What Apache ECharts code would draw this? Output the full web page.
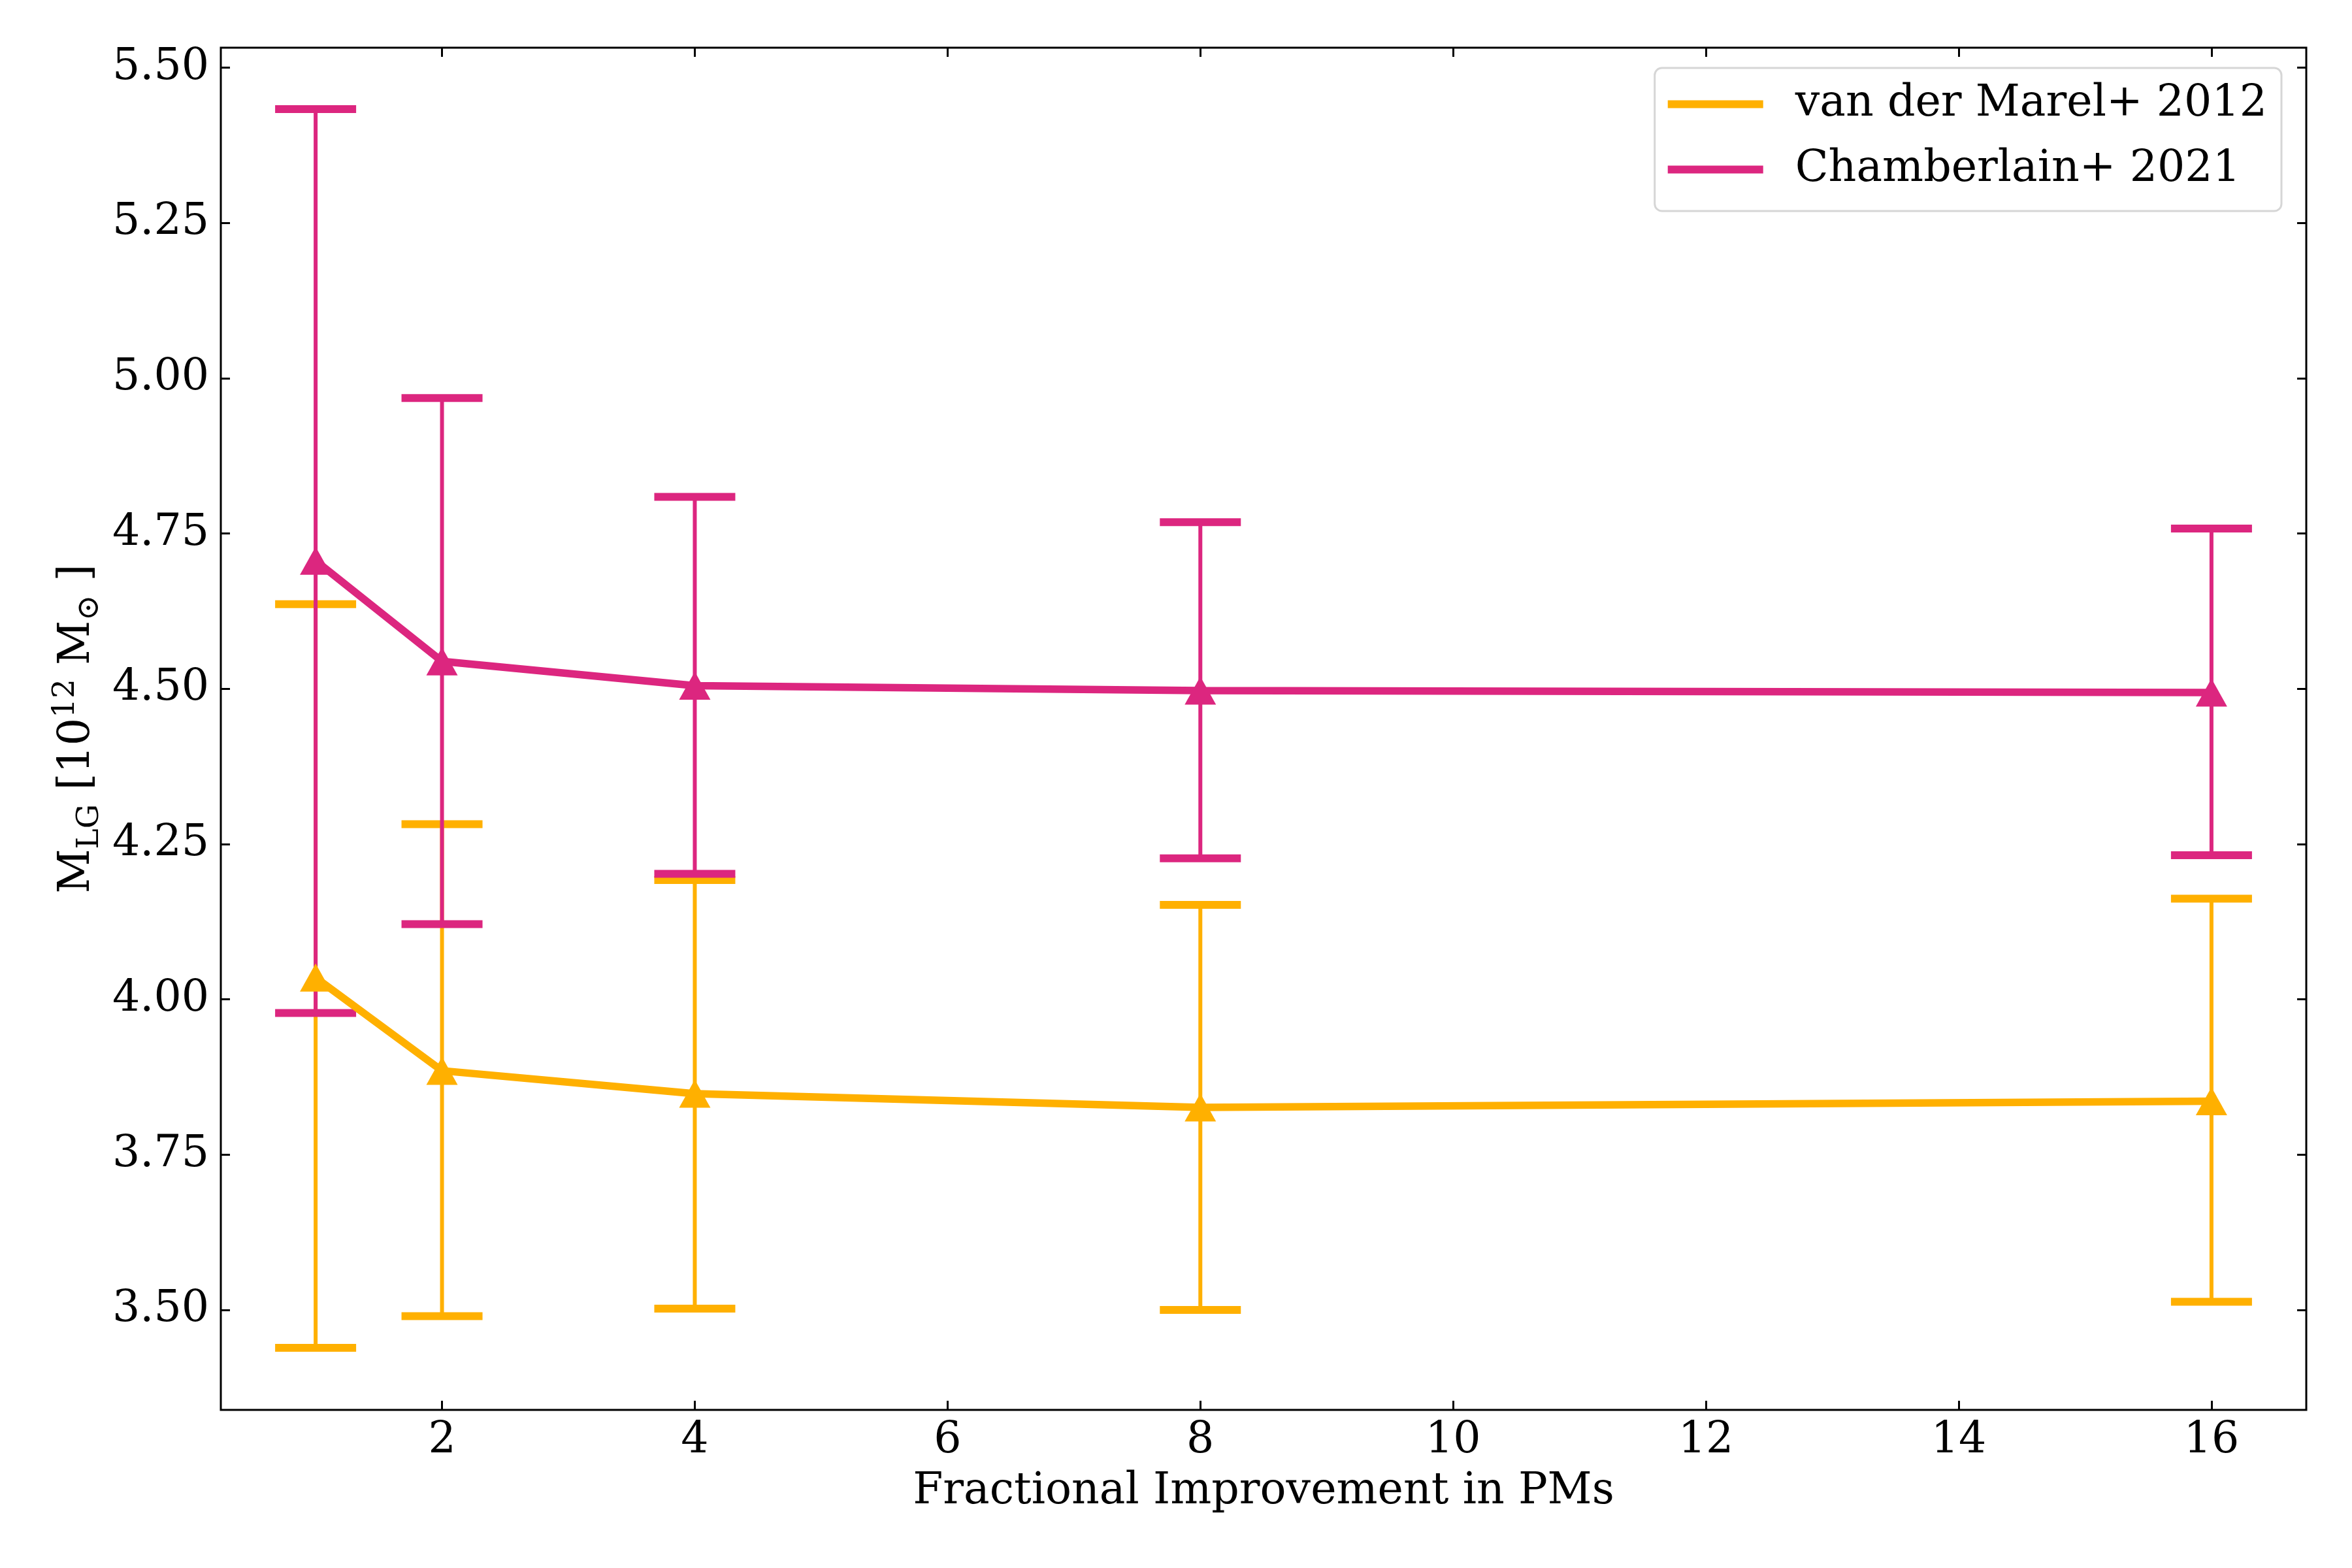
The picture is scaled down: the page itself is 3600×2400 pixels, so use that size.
<!DOCTYPE html>
<html>
<head>
<meta charset="utf-8">
<script src="https://cdn.jsdelivr.net/npm/echarts@6/dist/echarts.min.js"></script>
<style>
  html, body { margin: 0; padding: 0; background: #fff; }
  #chart { width: 3600px; height: 2400px; }
</style>
</head>
<body>
<div id="chart"></div>
<script>
// x: fractional improvement in PMs
const improvement = [1, 2, 4, 8, 16]
const xTicks = [2, 4, 6, 8, 10, 12, 14, 16]
const yTicks = [3.5, 3.75, 4.0, 4.25, 4.5, 4.75, 5.0, 5.25, 5.5]

// van der Marel+ 2012
const vdmName = 'van der Marel+ 2012'
const vdmMass = [4.035, 3.885, 3.848, 3.826, 3.836]
const vdmLow = [3.439, 3.490, 3.502, 3.500, 3.513]
const vdmHigh = [4.636, 4.282, 4.192, 4.152, 4.162]

// Chamberlain+ 2021
const chamName = 'Chamberlain+ 2021'
const chamMass = [4.706, 4.544, 4.505, 4.497, 4.494]
const chamLow = [3.978, 4.121, 4.202, 4.227, 4.232]
const chamHigh = [5.433, 4.968, 4.809, 4.768, 4.758]

const ORANGE = '#FFB000'
const PINK = '#DC267F'
const FONT = 'DejaVu Serif'
const FS = 66.5

const chart = echarts.init(document.getElementById('chart'))

// ticks pointing inwards, like matplotlib direction='in'
function tick(values) {
  return { show: true, inside: true, length: 14, customValues: values, lineStyle: { color: '#000', width: 3 } }
}

// error bars drawn with the axis scales
function errorBars(name, color, low, high, z) {
  return {
    type: 'custom',
    name: name,
    z: z,
    data: improvement.map((x, i) => [x, low[i], high[i]]),
    encode: { x: 0, y: [1, 2] },
    renderItem(params, api) {
      const x = api.value(0)
      const lo = api.coord([x, api.value(1)])
      const hi = api.coord([x, api.value(2)])
      const cap = 62
      return {
        type: 'group',
        children: [
          { type: 'line', shape: { x1: lo[0], y1: lo[1], x2: hi[0], y2: hi[1] }, style: { stroke: color, lineWidth: 6 } },
          { type: 'line', shape: { x1: lo[0] - cap, y1: lo[1], x2: lo[0] + cap, y2: lo[1] }, style: { stroke: color, lineWidth: 12 } },
          { type: 'line', shape: { x1: hi[0] - cap, y1: hi[1], x2: hi[0] + cap, y2: hi[1] }, style: { stroke: color, lineWidth: 12 } },
        ],
      }
    },
  }
}

function massLine(name, color, mass, z) {
  return {
    type: 'line',
    name: name,
    z: z,
    data: improvement.map((x, i) => [x, mass[i]]),
    symbol: 'triangle',
    symbolSize: [48, 43],
    lineStyle: { color: color, width: 11.5 },
    itemStyle: { color: color },
  }
}

const labelStyle = { fontSize: FS, fontFamily: FONT, color: '#000' }

chart.setOption({
  animation: false,
  backgroundColor: '#fff',
  grid: { left: 338, right: 70, top: 73, bottom: 242, show: true, borderColor: '#000', borderWidth: 3 },
  legend: {
    data: [vdmName, chamName],
    orient: 'vertical',
    right: 108,
    top: 104,
    icon: 'rect',
    itemWidth: 146,
    itemHeight: 12,
    itemGap: 33,
    padding: [22, 22, 30, 20],
    borderColor: '#d6d6d6',
    borderWidth: 3,
    borderRadius: 11,
    backgroundColor: '#fff',
    textStyle: { ...labelStyle, padding: [0, 0, 0, 44] },
    z: 10,
  },
  xAxis: [
    {
      type: 'value', position: 'bottom', min: 0.25, max: 16.75,
      axisLine: { show: false }, splitLine: { show: false },
      axisTick: tick(xTicks),
      axisLabel: { ...labelStyle, customValues: xTicks, margin: 14 },
      name: 'Fractional Improvement in PMs',
      nameLocation: 'middle',
      nameGap: 92,
      nameTextStyle: labelStyle,
    },
    {
      type: 'value', position: 'top', min: 0.25, max: 16.75,
      axisLine: { show: false }, splitLine: { show: false },
      axisTick: tick(xTicks), axisLabel: { show: false },
    },
  ],
  yAxis: [
    {
      type: 'value', position: 'left', min: 3.339, max: 5.532,
      axisLine: { show: false }, splitLine: { show: false },
      axisTick: tick(yTicks),
      axisLabel: { ...labelStyle, customValues: yTicks, margin: 18, formatter: (v) => v.toFixed(2) },
      name: '{m|M}{sub|LG}{m| [10}{sup|12}{m| M}{sub|⊙}{m| ]}',
      nameLocation: 'middle',
      nameRotate: 90,
      nameGap: 170,
      nameTextStyle: {
        ...labelStyle,
        rich: {
          m: { fontSize: FS, fontFamily: FONT, color: '#000', lineHeight: 84, verticalAlign: 'middle' },
          sub: { fontSize: 47, fontFamily: FONT, color: '#000', lineHeight: 47, verticalAlign: 'bottom' },
          sup: { fontSize: 47, fontFamily: FONT, color: '#000', lineHeight: 47, verticalAlign: 'top' },
        },
      },
    },
    {
      type: 'value', position: 'right', min: 3.339, max: 5.532,
      axisLine: { show: false }, splitLine: { show: false },
      axisTick: tick(yTicks), axisLabel: { show: false },
    },
  ],
  series: [
    errorBars(vdmName + ' err', ORANGE, vdmLow, vdmHigh, 2),
    errorBars(chamName + ' err', PINK, chamLow, chamHigh, 3),
    massLine(vdmName, ORANGE, vdmMass, 4),
    massLine(chamName, PINK, chamMass, 5),
  ],
})
</script>
</body>
</html>
